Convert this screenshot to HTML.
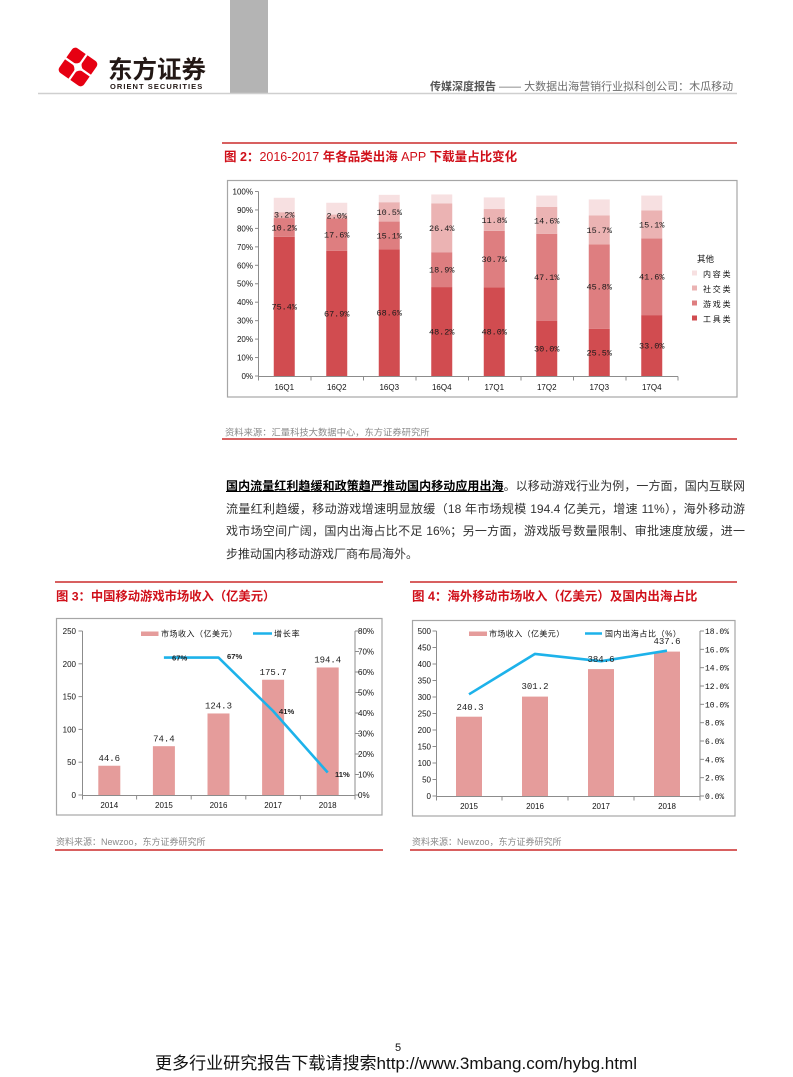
<!DOCTYPE html>
<html>
<head>
<meta charset="utf-8">
<style>
html,body{margin:0;padding:0;background:#fff;}
body{width:793px;height:1077px;position:relative;overflow:hidden;font-family:"Liberation Sans","Noto Sans CJK SC",sans-serif;}
svg{position:absolute;left:0;top:0;}
.para{position:absolute;left:226px;top:475px;width:519px;font-size:12px;line-height:22.5px;color:#333;font-family:"Liberation Sans","Noto Sans CJK SC",sans-serif;}
.para div{text-align:justify;text-align-last:justify;white-space:nowrap;}
.para div.last{text-align-last:left;}
.para b{color:#000;text-decoration:underline;font-weight:bold;}
</style>
</head>
<body>
<svg width="793" height="1077" viewBox="0 0 793 1077" xmlns="http://www.w3.org/2000/svg" font-family="Liberation Sans, Noto Sans CJK SC, sans-serif">
<!-- header -->
<rect x="230" y="0" width="38" height="93" fill="#b4b4b4"/>
<line x1="38" y1="93.5" x2="737" y2="93.5" stroke="#cfcfcf" stroke-width="1.5"/>
<g transform="translate(78,67) rotate(35)">
  <rect x="-15" y="-15" width="30" height="30" rx="4" fill="#e60012"/>
  <rect x="-1.1" y="-16" width="2.2" height="32" fill="#fff"/>
  <rect x="-16" y="-1.1" width="32" height="2.2" fill="#fff"/>
  <path d="M0,-9 Q0.8,-0.8 9,0 Q0.8,0.8 0,9 Q-0.8,0.8 -9,0 Q-0.8,-0.8 0,-9Z" fill="#fff"/>
</g>
<text x="108" y="78" font-size="24.5" font-weight="bold" fill="#231815" font-family="Liberation Sans, Noto Sans CJK SC, sans-serif">东方证券</text>
<text x="110" y="89" font-size="7.5" font-weight="bold" fill="#231815" letter-spacing="1.05">ORIENT  SECURITIES</text>
<text x="430" y="90" font-size="11" fill="#6d6d6d"><tspan font-weight="bold" fill="#555">传媒深度报告</tspan> —— 大数据出海营销行业拟科创公司：木瓜移动</text>

<!-- figure 2 -->
<line x1="222" y1="143" x2="737" y2="143" stroke="#c00000" stroke-width="1.3"/>
<text x="224" y="161" font-size="12.5" fill="#d0101a" font-weight="bold">图 2：<tspan font-weight="normal">2016-2017</tspan> 年各品类出海 <tspan font-weight="normal">APP</tspan> 下载量占比变化</text>
<rect x="227.5" y="180.5" width="509.5" height="216.5" fill="#fff" stroke="#a6a6a6" stroke-width="1.2"/>
<!-- y axis -->
<g stroke="#8c8c8c" stroke-width="1">
<line x1="258.5" y1="191.5" x2="258.5" y2="376"/>
<line x1="255" y1="376" x2="258.5" y2="376"/><line x1="255" y1="357.55" x2="258.5" y2="357.55"/><line x1="255" y1="339.1" x2="258.5" y2="339.1"/><line x1="255" y1="320.65" x2="258.5" y2="320.65"/><line x1="255" y1="302.2" x2="258.5" y2="302.2"/><line x1="255" y1="283.75" x2="258.5" y2="283.75"/><line x1="255" y1="265.3" x2="258.5" y2="265.3"/><line x1="255" y1="246.85" x2="258.5" y2="246.85"/><line x1="255" y1="228.4" x2="258.5" y2="228.4"/><line x1="255" y1="209.95" x2="258.5" y2="209.95"/><line x1="255" y1="191.5" x2="258.5" y2="191.5"/>
<line x1="258" y1="376.5" x2="678" y2="376.5"/>
<line x1="258.5" y1="376.5" x2="258.5" y2="380.5"/><line x1="311" y1="376.5" x2="311" y2="380.5"/><line x1="363.5" y1="376.5" x2="363.5" y2="380.5"/><line x1="416" y1="376.5" x2="416" y2="380.5"/><line x1="468.5" y1="376.5" x2="468.5" y2="380.5"/><line x1="521" y1="376.5" x2="521" y2="380.5"/><line x1="573.5" y1="376.5" x2="573.5" y2="380.5"/><line x1="626" y1="376.5" x2="626" y2="380.5"/><line x1="678" y1="376.5" x2="678" y2="380.5"/>
</g>
<g font-size="8" fill="#111" text-anchor="end">
<text x="253" y="379">0%</text><text x="253" y="360.5">10%</text><text x="253" y="342">20%</text><text x="253" y="323.6">30%</text><text x="253" y="305.2">40%</text><text x="253" y="286.7">50%</text><text x="253" y="268.3">60%</text><text x="253" y="249.8">70%</text><text x="253" y="231.4">80%</text><text x="253" y="212.9">90%</text><text x="253" y="194.5">100%</text>
</g>
<!-- bars -->
<g>
<rect x="273.75" y="236.89" width="21" height="139.11" fill="#d14c50"/><rect x="273.75" y="218.07" width="21" height="18.82" fill="#de7e80"/><rect x="273.75" y="212.17" width="21" height="5.9" fill="#ebb3b3"/><rect x="273.75" y="197.78" width="21" height="14.39" fill="#f7e0e1"/>
<rect x="326.25" y="250.72" width="21" height="125.28" fill="#d14c50"/><rect x="326.25" y="218.25" width="21" height="32.47" fill="#de7e80"/><rect x="326.25" y="214.56" width="21" height="3.69" fill="#ebb3b3"/><rect x="326.25" y="202.75" width="21" height="11.81" fill="#f7e0e1"/>
<rect x="378.75" y="249.43" width="21" height="126.57" fill="#d14c50"/><rect x="378.75" y="221.57" width="21" height="27.86" fill="#de7e80"/><rect x="378.75" y="202.2" width="21" height="19.37" fill="#ebb3b3"/><rect x="378.75" y="194.82" width="21" height="7.38" fill="#f7e0e1"/>
<rect x="431.25" y="287.07" width="21" height="88.93" fill="#d14c50"/><rect x="431.25" y="252.2" width="21" height="34.87" fill="#de7e80"/><rect x="431.25" y="203.49" width="21" height="48.71" fill="#ebb3b3"/><rect x="431.25" y="194.45" width="21" height="9.04" fill="#f7e0e1"/>
<rect x="483.75" y="287.44" width="21" height="88.56" fill="#d14c50"/><rect x="483.75" y="230.8" width="21" height="56.64" fill="#de7e80"/><rect x="483.75" y="209.03" width="21" height="21.77" fill="#ebb3b3"/><rect x="483.75" y="197.41" width="21" height="11.62" fill="#f7e0e1"/>
<rect x="536.25" y="320.65" width="21" height="55.35" fill="#d14c50"/><rect x="536.25" y="233.75" width="21" height="86.9" fill="#de7e80"/><rect x="536.25" y="206.81" width="21" height="26.94" fill="#ebb3b3"/><rect x="536.25" y="195.56" width="21" height="11.25" fill="#f7e0e1"/>
<rect x="588.75" y="328.95" width="21" height="47.05" fill="#d14c50"/><rect x="588.75" y="244.45" width="21" height="84.5" fill="#de7e80"/><rect x="588.75" y="215.48" width="21" height="28.97" fill="#ebb3b3"/><rect x="588.75" y="199.43" width="21" height="16.05" fill="#f7e0e1"/>
<rect x="641.25" y="315.11" width="21" height="60.89" fill="#d14c50"/><rect x="641.25" y="238.36" width="21" height="76.75" fill="#de7e80"/><rect x="641.25" y="210.5" width="21" height="27.86" fill="#ebb3b3"/><rect x="641.25" y="195.56" width="21" height="14.94" fill="#f7e0e1"/>
</g>
<g font-size="8.5" fill="#1a1a1a" text-anchor="middle" font-family="Liberation Mono, monospace">
<text x="284.25" y="309.4">75.4%</text><text x="284.25" y="230.5">10.2%</text><text x="284.25" y="217.5">3.2%</text>
<text x="336.75" y="316.4">67.9%</text><text x="336.75" y="237.5">17.6%</text><text x="336.75" y="218.6">2.0%</text>
<text x="389.25" y="315.7">68.6%</text><text x="389.25" y="238.5">15.1%</text><text x="389.25" y="214.9">10.5%</text>
<text x="441.75" y="334.5">48.2%</text><text x="441.75" y="272.6">18.9%</text><text x="441.75" y="230.8">26.4%</text>
<text x="494.25" y="334.7">48.0%</text><text x="494.25" y="262.1">30.7%</text><text x="494.25" y="222.9">11.8%</text>
<text x="546.75" y="351.3">30.0%</text><text x="546.75" y="280.2">47.1%</text><text x="546.75" y="223.3">14.6%</text>
<text x="599.25" y="355.5">25.5%</text><text x="599.25" y="289.7">45.8%</text><text x="599.25" y="233">15.7%</text>
<text x="651.75" y="348.6">33.0%</text><text x="651.75" y="279.7">41.6%</text><text x="651.75" y="227.4">15.1%</text>
</g>
<g font-size="8" fill="#111" text-anchor="middle">
<text x="284.25" y="390">16Q1</text><text x="336.75" y="390">16Q2</text><text x="389.25" y="390">16Q3</text><text x="441.75" y="390">16Q4</text><text x="494.25" y="390">17Q1</text><text x="546.75" y="390">17Q2</text><text x="599.25" y="390">17Q3</text><text x="651.75" y="390">17Q4</text>
</g>
<!-- legend fig2 -->
<text x="697" y="262" font-size="8.5" fill="#111">其他</text>
<rect x="692" y="270.5" width="5" height="5" fill="#f7e0e1"/><text x="703" y="277" font-size="8" fill="#111" letter-spacing="1.8">内容类</text>
<rect x="692" y="285.5" width="5" height="5" fill="#ebb3b3"/><text x="703" y="292" font-size="8" fill="#111" letter-spacing="1.8">社交类</text>
<rect x="692" y="300.5" width="5" height="5" fill="#de7e80"/><text x="703" y="307" font-size="8" fill="#111" letter-spacing="1.8">游戏类</text>
<rect x="692" y="315.5" width="5" height="5" fill="#d14c50"/><text x="703" y="322" font-size="8" fill="#111" letter-spacing="1.8">工具类</text>
<text x="225" y="435.5" font-size="9.3" fill="#8a8a8a">资料来源：汇量科技大数据中心，东方证券研究所</text>
<line x1="222" y1="439" x2="737" y2="439" stroke="#c00000" stroke-width="1.3"/>

<!-- figure 3 -->
<line x1="55" y1="582" x2="383" y2="582" stroke="#c00000" stroke-width="1.3"/>
<text x="56" y="600.5" font-size="12.3" fill="#d0101a" font-weight="bold">图 3：中国移动游戏市场收入（亿美元）</text>
<rect x="56.5" y="618.5" width="325.5" height="196.5" fill="#fff" stroke="#a6a6a6" stroke-width="1.2"/>
<g stroke="#8c8c8c" stroke-width="1">
<line x1="82.5" y1="631" x2="82.5" y2="795.5"/>
<line x1="78.5" y1="795" x2="82.5" y2="795"/><line x1="78.5" y1="762.2" x2="82.5" y2="762.2"/><line x1="78.5" y1="729.4" x2="82.5" y2="729.4"/><line x1="78.5" y1="696.6" x2="82.5" y2="696.6"/><line x1="78.5" y1="663.8" x2="82.5" y2="663.8"/><line x1="78.5" y1="631" x2="82.5" y2="631"/>
<line x1="355" y1="631" x2="355" y2="795.5"/>
<line x1="355" y1="795" x2="359" y2="795"/><line x1="355" y1="774.5" x2="359" y2="774.5"/><line x1="355" y1="754" x2="359" y2="754"/><line x1="355" y1="733.5" x2="359" y2="733.5"/><line x1="355" y1="713" x2="359" y2="713"/><line x1="355" y1="692.5" x2="359" y2="692.5"/><line x1="355" y1="672" x2="359" y2="672"/><line x1="355" y1="651.5" x2="359" y2="651.5"/><line x1="355" y1="631" x2="359" y2="631"/>
<line x1="82" y1="795.5" x2="355" y2="795.5"/>
<line x1="82.5" y1="795.5" x2="82.5" y2="799.5"/><line x1="136.6" y1="795.5" x2="136.6" y2="799.5"/><line x1="191.2" y1="795.5" x2="191.2" y2="799.5"/><line x1="245.8" y1="795.5" x2="245.8" y2="799.5"/><line x1="300.4" y1="795.5" x2="300.4" y2="799.5"/><line x1="355" y1="795.5" x2="355" y2="799.5"/>
</g>
<g font-size="8" fill="#111" text-anchor="end">
<text x="76" y="798">0</text><text x="76" y="765.2">50</text><text x="76" y="732.4">100</text><text x="76" y="699.6">150</text><text x="76" y="666.8">200</text><text x="76" y="634">250</text>
</g>
<g font-size="8" fill="#111">
<text x="358" y="798">0%</text><text x="358" y="777.5">10%</text><text x="358" y="757">20%</text><text x="358" y="736.5">30%</text><text x="358" y="716">40%</text><text x="358" y="695.5">50%</text><text x="358" y="675">60%</text><text x="358" y="654.5">70%</text><text x="358" y="634">80%</text>
</g>
<g fill="#e59c9b">
<rect x="98.3" y="765.74" width="22" height="29.26"/><rect x="152.9" y="746.19" width="22" height="48.81"/><rect x="207.5" y="713.46" width="22" height="81.54"/><rect x="262.1" y="679.74" width="22" height="115.26"/><rect x="316.7" y="667.47" width="22" height="127.53"/>
</g>
<g font-size="9" fill="#222" text-anchor="middle" font-family="Liberation Mono, monospace">
<text x="109.3" y="761">44.6</text><text x="163.9" y="741.5">74.4</text><text x="218.5" y="708.5">124.3</text><text x="273.1" y="675">175.7</text><text x="327.7" y="662.5">194.4</text>
</g>
<polyline points="163.9,657.6 218.5,657.6 273.1,711 327.7,772.5" fill="none" stroke="#1db2ea" stroke-width="2.6" stroke-linejoin="round"/>
<g font-size="7.6" fill="#222" font-weight="bold">
<text x="172" y="660.5">67%</text><text x="227" y="659">67%</text><text x="279" y="714">41%</text><text x="335" y="777">11%</text>
</g>
<rect x="141" y="631.5" width="17.5" height="4.5" fill="#e59c9b"/>
<text x="161" y="636.5" font-size="8" fill="#111" letter-spacing="0.5">市场收入（亿美元）</text>
<line x1="253" y1="633.5" x2="272" y2="633.5" stroke="#1db2ea" stroke-width="2.6"/>
<text x="274" y="636.5" font-size="8" fill="#111" letter-spacing="0.8">增长率</text>
<g font-size="8" fill="#111" text-anchor="middle">
<text x="109.3" y="808">2014</text><text x="163.9" y="808">2015</text><text x="218.5" y="808">2016</text><text x="273.1" y="808">2017</text><text x="327.7" y="808">2018</text>
</g>
<text x="56" y="845" font-size="9" fill="#8a8a8a">资料来源：Newzoo，东方证券研究所</text>
<line x1="55" y1="850" x2="383" y2="850" stroke="#c00000" stroke-width="1.3"/>

<!-- figure 4 -->
<line x1="410" y1="582" x2="737" y2="582" stroke="#c00000" stroke-width="1.3"/>
<text x="412" y="600.5" font-size="12.5" fill="#d0101a" font-weight="bold">图 4：海外移动市场收入（亿美元）及国内出海占比</text>
<rect x="412.5" y="620.5" width="322.5" height="195.5" fill="#fff" stroke="#a6a6a6" stroke-width="1.2"/>
<g stroke="#8c8c8c" stroke-width="1">
<line x1="436.5" y1="631" x2="436.5" y2="796.5"/>
<line x1="432.5" y1="796" x2="436.5" y2="796"/><line x1="432.5" y1="779.5" x2="436.5" y2="779.5"/><line x1="432.5" y1="763" x2="436.5" y2="763"/><line x1="432.5" y1="746.5" x2="436.5" y2="746.5"/><line x1="432.5" y1="730" x2="436.5" y2="730"/><line x1="432.5" y1="713.5" x2="436.5" y2="713.5"/><line x1="432.5" y1="697" x2="436.5" y2="697"/><line x1="432.5" y1="680.5" x2="436.5" y2="680.5"/><line x1="432.5" y1="664" x2="436.5" y2="664"/><line x1="432.5" y1="647.5" x2="436.5" y2="647.5"/><line x1="432.5" y1="631" x2="436.5" y2="631"/>
<line x1="700" y1="631" x2="700" y2="796.5"/>
<line x1="700" y1="796" x2="704" y2="796"/><line x1="700" y1="777.67" x2="704" y2="777.67"/><line x1="700" y1="759.33" x2="704" y2="759.33"/><line x1="700" y1="741" x2="704" y2="741"/><line x1="700" y1="722.67" x2="704" y2="722.67"/><line x1="700" y1="704.33" x2="704" y2="704.33"/><line x1="700" y1="686" x2="704" y2="686"/><line x1="700" y1="667.67" x2="704" y2="667.67"/><line x1="700" y1="649.33" x2="704" y2="649.33"/><line x1="700" y1="631" x2="704" y2="631"/>
<line x1="436" y1="796.5" x2="700" y2="796.5"/>
<line x1="436.5" y1="796.5" x2="436.5" y2="800.5"/><line x1="502" y1="796.5" x2="502" y2="800.5"/><line x1="568" y1="796.5" x2="568" y2="800.5"/><line x1="634" y1="796.5" x2="634" y2="800.5"/><line x1="700" y1="796.5" x2="700" y2="800.5"/>
</g>
<g font-size="8" fill="#111" text-anchor="end">
<text x="431" y="799">0</text><text x="431" y="782.5">50</text><text x="431" y="766">100</text><text x="431" y="749.5">150</text><text x="431" y="733">200</text><text x="431" y="716.5">250</text><text x="431" y="700">300</text><text x="431" y="683.5">350</text><text x="431" y="667">400</text><text x="431" y="650.5">450</text><text x="431" y="634">500</text>
</g>
<g font-size="8" fill="#111" font-family="Liberation Mono, monospace">
<text x="705" y="799">0.0%</text><text x="705" y="780.7">2.0%</text><text x="705" y="762.3">4.0%</text><text x="705" y="744">6.0%</text><text x="705" y="725.7">8.0%</text><text x="705" y="707.3">10.0%</text><text x="705" y="689">12.0%</text><text x="705" y="670.7">14.0%</text><text x="705" y="652.3">16.0%</text><text x="705" y="634">18.0%</text>
</g>
<g fill="#e59c9b">
<rect x="456" y="716.7" width="26" height="79.3"/><rect x="522" y="696.6" width="26" height="99.4"/><rect x="588" y="669.1" width="26" height="126.9"/><rect x="654" y="651.6" width="26" height="144.4"/>
</g>
<polyline points="469,694.3 535,653.9 601,661.2 667,650.7" fill="none" stroke="#1db2ea" stroke-width="2.6" stroke-linejoin="round"/>
<g font-size="9" fill="#222" text-anchor="middle" font-family="Liberation Mono, monospace">
<text x="470" y="710">240.3</text><text x="535" y="689">301.2</text><text x="601" y="662">384.6</text><text x="667" y="644">437.6</text>
</g>
<rect x="469" y="631.5" width="18" height="4.5" fill="#e59c9b"/>
<text x="489" y="636.5" font-size="8" fill="#111" letter-spacing="0.4">市场收入（亿美元）</text>
<line x1="585" y1="633.5" x2="602" y2="633.5" stroke="#1db2ea" stroke-width="2.6"/>
<text x="605" y="636.5" font-size="8" fill="#111" letter-spacing="0.6">国内出海占比（%）</text>
<g font-size="8" fill="#111" text-anchor="middle">
<text x="469" y="809">2015</text><text x="535" y="809">2016</text><text x="601" y="809">2017</text><text x="667" y="809">2018</text>
</g>
<text x="412" y="845" font-size="9" fill="#8a8a8a">资料来源：Newzoo，东方证券研究所</text>
<line x1="410" y1="850" x2="737" y2="850" stroke="#c00000" stroke-width="1.3"/>

<!-- footer -->
<text x="398" y="1051" font-size="11" fill="#111" text-anchor="middle">5</text>
<text x="155" y="1069" font-size="17" fill="#111" textLength="482" lengthAdjust="spacingAndGlyphs">更多行业研究报告下载请搜索http://www.3mbang.com/hybg.html</text>
</svg>

<div class="para">
<div><b>国内流量红利趋缓和政策趋严推动国内移动应用出海</b>。以移动游戏行业为例，一方面，国内互联网</div>
<div>流量红利趋缓，移动游戏增速明显放缓（18 年市场规模 194.4 亿美元，增速 11%），海外移动游</div>
<div>戏市场空间广阔，国内出海占比不足 16%；另一方面，游戏版号数量限制、审批速度放缓，进一</div>
<div class="last">步推动国内移动游戏厂商布局海外。</div>
</div>
</body>
</html>
